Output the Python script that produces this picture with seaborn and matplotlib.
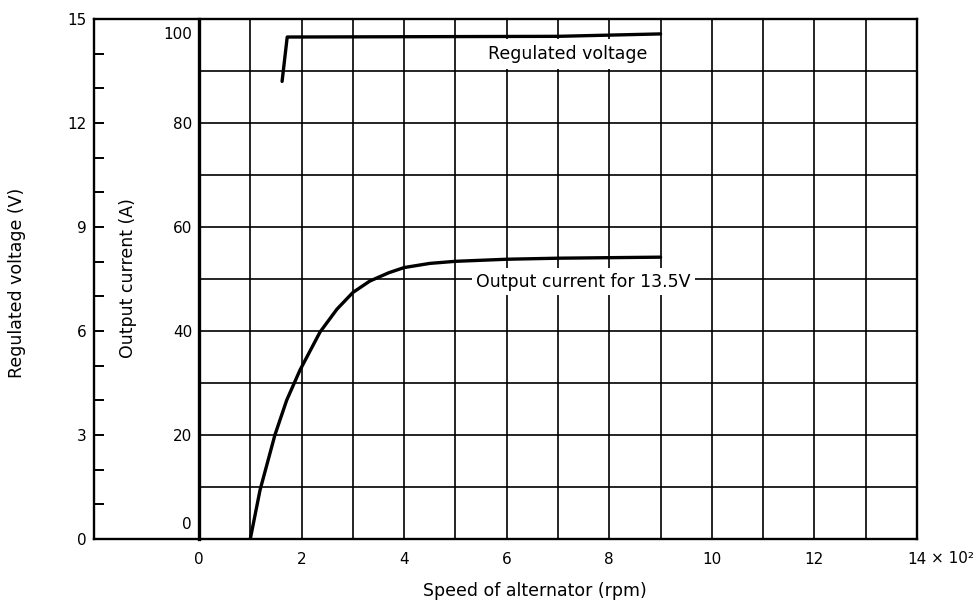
import matplotlib
matplotlib.use("Agg")
import matplotlib.pyplot as plt
import seaborn as sns
import pandas as pd

# Alternator speed in units of 10^2 rpm
current_speed = [1.0, 1.19, 1.48, 1.71, 1.97, 2.36, 2.69, 3.0, 3.33, 3.7, 4.0,
                 4.5, 5.0, 6.0, 7.0, 8.0, 9.0]
current_amps = [0.0, 9.4, 20.0, 26.7, 32.5, 39.8, 44.2, 47.4, 49.6, 51.2, 52.2,
                53.0, 53.4, 53.8, 54.0, 54.1, 54.2]

voltage_speed = [1.62, 1.72, 7.0, 9.0]
voltage_volts = [13.2, 14.48, 14.5, 14.57]

speed_ticks = [0, 2, 4, 6, 8, 10, 12, 14]
voltage_ticks = [0, 3, 6, 9, 12, 15]
current_ticks = [20, 40, 60, 80]
current_end_labels = [0, 100]

current_df = pd.DataFrame({"speed": current_speed, "current": current_amps})
voltage_df = pd.DataFrame({"speed": voltage_speed, "voltage": voltage_volts})

sns.set_theme(style="ticks")
plt.rcParams["font.family"] = ["DejaVu Sans"]
plt.rcParams["axes.edgecolor"] = "black"
plt.rcParams["text.color"] = "black"
plt.rcParams["xtick.color"] = "black"
plt.rcParams["ytick.color"] = "black"

W, H = 975, 600
fig = plt.figure(figsize=(W / 100, H / 100), dpi=100)
fig.patch.set_facecolor("white")

left_px, right_px, top_px, bottom_px = 94, 917, 19, 539
ax = fig.add_axes([left_px / W, 1 - bottom_px / H,
                   (right_px - left_px) / W, (bottom_px - top_px) / H])
cur = ax.twinx()

ink = "black"
grid_lw = 1.2

# current axis: grid, curve and its labels
cur.hlines(list(range(10, 100, 10)), 0, 14, color=ink, lw=grid_lw, zorder=1)
cur.vlines(list(range(1, 14)), 0, 100, color=ink, lw=grid_lw, zorder=1)
sns.lineplot(data=current_df, x="speed", y="current", ax=cur, color=ink,
             linewidth=2.4, estimator=None, sort=False, zorder=4)

cur.text(7.19, 93.3, "Regulated voltage", ha="center", va="center", fontsize=12.5,
         bbox=dict(facecolor="white", edgecolor="none", pad=4.3), zorder=3)
cur.text(7.49, 49.5, "Output current for 13.5V", ha="center", va="center",
         fontsize=12.5, bbox=dict(facecolor="white", edgecolor="none", pad=3),
         zorder=3)

# voltage axis on top so the voltage trace sits over the grid
ax.set_zorder(cur.get_zorder() + 1)
ax.patch.set_visible(False)
sns.lineplot(data=voltage_df, x="speed", y="voltage", ax=ax, color=ink,
             linewidth=2.4, estimator=None, sort=False)

px_per_unit = (right_px - 199) / 14
ax.set_xlim(-(199 - left_px) / px_per_unit, 14)
ax.set_ylim(0, 15)
cur.set_ylim(0, 100)

for s in ax.spines.values():
    s.set_visible(True)
    s.set_linewidth(1.7)
    s.set_color(ink)

for name in ["top", "right", "bottom"]:
    cur.spines[name].set_visible(False)
cur.spines["left"].set_visible(True)
cur.spines["left"].set_position(("data", 0))
cur.spines["left"].set_linewidth(2.4)
cur.spines["left"].set_color(ink)
cur.yaxis.tick_left()
cur.set_yticks(current_ticks)
cur.set_yticklabels([str(v) for v in current_ticks])
cur.tick_params(axis="y", length=0, pad=5, labelsize=11)
cur.set_ylabel("")
cur.set_xlabel("")
cur.annotate(str(current_end_labels[0]), xy=(0, current_end_labels[0]),
             xytext=(-5, 5), textcoords="offset points", ha="right", va="bottom",
             fontsize=11)
cur.annotate(str(current_end_labels[1]), xy=(0, current_end_labels[1]),
             xytext=(-5, -6), textcoords="offset points", ha="right", va="top",
             fontsize=11)

ax.set_xticks(speed_ticks)
ax.set_xticklabels([str(v) for v in speed_ticks])
ax.tick_params(axis="x", length=0, pad=9, labelsize=11)
ax.annotate("× 10²", xy=(14, 0), xycoords="data", xytext=(10, -13.8),
            textcoords="offset points", ha="left", va="center", fontsize=11)

ax.set_yticks(voltage_ticks)
ax.set_yticklabels([str(v) for v in voltage_ticks])
ax.set_yticks(list(range(0, 16)), minor=True)
ax.tick_params(axis="y", which="both", direction="in", length=7, width=1.4,
               pad=5, labelsize=11, left=True, right=False)
ax.set_xlabel("")
ax.set_ylabel("")

fig.text(535 / W, 1 - 591 / H, "Speed of alternator (rpm)", ha="center",
         va="center", fontsize=12.5)
fig.text(17 / W, 1 - 283 / H, "Regulated voltage (V)", ha="center", va="center",
         rotation=90, fontsize=12.5)
fig.text(128 / W, 1 - 278 / H, "Output current (A)", ha="center", va="center",
         rotation=90, fontsize=12.5)

fig.savefig("out.png", dpi=100, facecolor="white")
